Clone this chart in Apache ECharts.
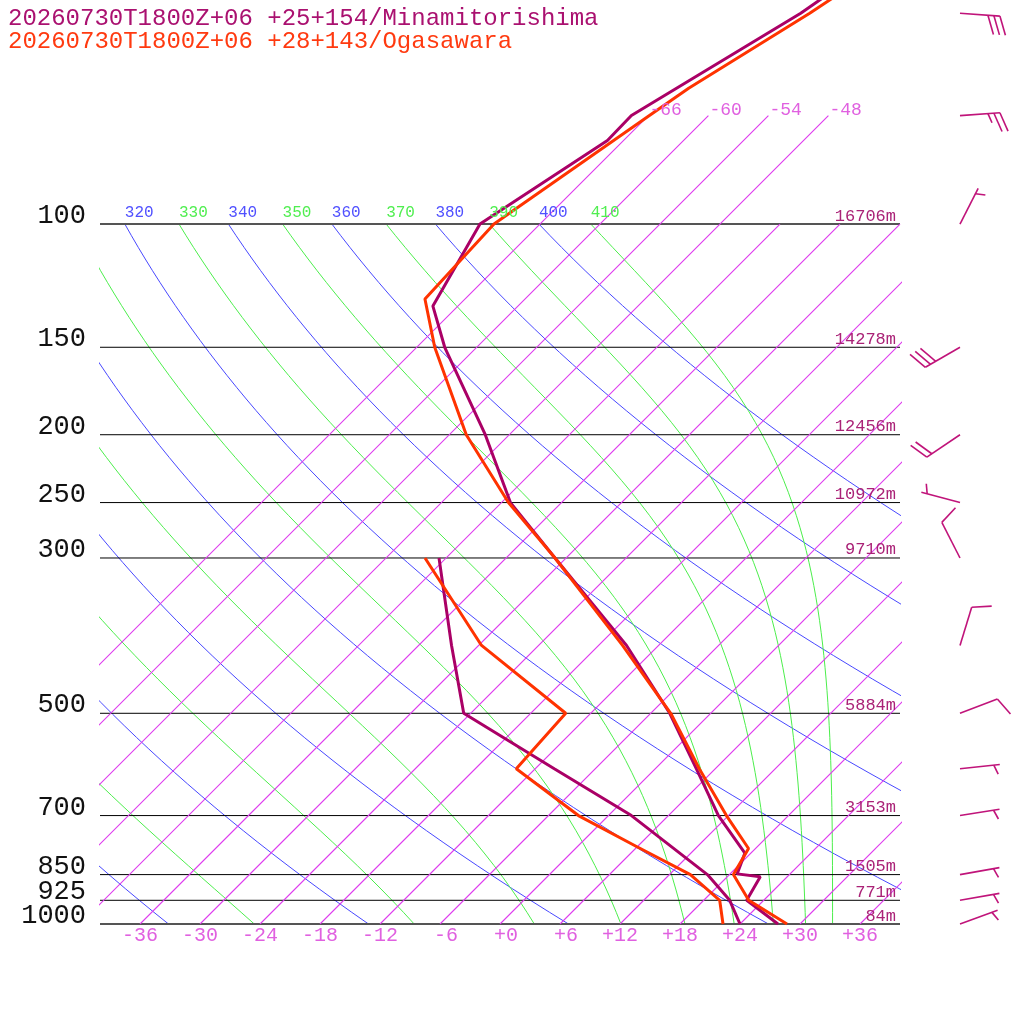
<!DOCTYPE html>
<html>
<head>
<meta charset="utf-8">
<script src="https://cdn.jsdelivr.net/npm/echarts@6/dist/echarts.min.js"></script>
<style>html,body{margin:0;padding:0;background:#ffffff}#chart{width:1024px;height:1024px}</style>
</head>
<body>
<div id="chart"></div>
<script>
// ---------------- data ----------------
const titleLines = ['20260730T1800Z+06 +25+154/Minamitorishima', '20260730T1800Z+06 +28+143/Ogasawara'];
const pressureLevels = [100, 150, 200, 250, 300, 500, 700, 850, 925, 1000];
const pressureLabels = ['100', '150', '200', '250', '300', '500', '700', '850', '925', '1000'];
const heightLabels = ['16706m', '14278m', '12456m', '10972m', '9710m', '5884m', '3153m', '1505m', '771m', '84m'];
const tempTicks = [-36, -30, -24, -18, -12, -6, 0, 6, 12, 18, 24, 30, 36];
const isotherms = [-66, -60, -54, -48, -42, -36, -30, -24, -18, -12, -6, 0, 6, 12, 18, 24, 30, 36];
const upperIsotherms = [-66, -60, -54, -48];
const dryAdiabats = [240, 260, 280, 300, 320, 340, 360, 380, 400];
const moistAdiabats = [250, 270, 290, 310, 330, 350, 370, 390, 410];

// Minamitorishima
const minaTempP = [1000, 925, 856, 848, 792, 700, 600, 500, 400, 300, 250, 200, 150, 131, 100, 76, 70, 50, 30];
const minaTempC = [27.8, 22.3, 21.3, 18.7, 17.4, 11.0, 4.1, -4.1, -15.2, -31.1, -41.1, -50.4, -63.2, -68.5, -72.0, -67.6, -67.7, -61.0, -54.3];
const minaDewP = [1000, 925, 850, 700, 600, 500, 400, 300];
const minaDewC = [24.0, 20.6, 15.8, 2.3, -10.1, -24.7, -32.7, -42.7];
// Ogasawara
const ogaTempP = [1000, 925, 850, 780, 700, 600, 500, 400, 300, 250, 200, 150, 128, 100, 70, 64, 50, 30];
const ogaTempC = [28.7, 22.5, 18.4, 17.3, 11.8, 4.4, -4.0, -15.6, -31.1, -41.3, -52.3, -64.2, -70.0, -70.6, -65.9, -64.7, -60.1, -52.3];
const ogaDewP = [1000, 925, 850, 775, 700, 600, 500, 400, 300];
const ogaDewC = [22.3, 19.6, 14.1, 5.9, -3.0, -13.9, -14.5, -29.7, -44.1];

// Winds (Minamitorishima)
const windP = [50, 70, 100, 150, 200, 250, 300, 400, 500, 600, 700, 850, 925, 1000];
const windDir = [94, 86, 27, 240, 236, 285, 333, 17, 69, 84, 81, 80, 80, 70];
const windSpd = [30, 25, 5, 30, 20, 5, 10, 10, 10, 5, 5, 5, 5, 5];

// ---------------- diagram geometry ----------------
const P_TOP = 47.86;     // top of diagram (hPa)
const K = 30.4;          // skew: degC shift per unit ln(1000/p)
const X_MIN = -40, X_MAX = 40;
const X_BARB = 46;       // column of wind barbs (right of plot)
const MONO = '"Liberation Mono", "DejaVu Sans Mono", monospace';
const ISO_COLOR = 'rgb(222, 60, 238)';

function skewX(T, p) { return T + K * Math.log(1000 / p); }

function thetaESat(TK, p) {
  const Tc = TK - 273.15;
  const e = 6.112 * Math.exp(17.67 * Tc / (Tc + 243.5));
  if (e >= p * 0.6) return 1e9;
  const r = 0.622 * e / (p - e);
  const thDL = TK * Math.pow(1000 / (p - e), 0.2854);
  return thDL * Math.exp((3036 / TK - 1.78) * r * (1 + 0.448 * r));
}
function moistT(thE, p) {
  let lo = 120, hi = 360;
  for (let i = 0; i < 60; i++) {
    const mid = (lo + hi) / 2;
    if (thetaESat(mid, p) > thE) hi = mid; else lo = mid;
  }
  return (lo + hi) / 2 - 273.15;
}
function dryT(th, p) { return th * Math.pow(p / 1000, 0.286) - 273.15; }

const levels = [];
for (let i = 0; i <= 60; i++) levels.push(1000 * Math.exp(-i * Math.log(10) / 60));

const series = [];
function addLine(data, color, width, z) {
  series.push({ type: 'line', data, symbol: 'none', showSymbol: false, silent: true, clip: true, animation: false,
    color: color, itemStyle: { color: color },
    lineStyle: { color: color, width: width, opacity: 1 }, z: z });
}

// isotherms as line series
isotherms.forEach(T => {
  const top = upperIsotherms.includes(T) ? 70 : 100;
  addLine([[skewX(T, 1000), 1000], [skewX(T, top), top]], ISO_COLOR, 1.1, 4);
});
// dry adiabats
dryAdiabats.forEach(th => addLine(levels.map(p => [skewX(dryT(th, p), p), p]), '#4848ff', 1, 2));
// moist adiabats
moistAdiabats.forEach(th => addLine(levels.map(p => [skewX(moistT(th, p), p), p]), '#4cee4c', 1, 2));
// isobars
pressureLevels.forEach(p => {
  const edge = (p === 100 || p === 1000);
  addLine([[X_MIN, p], [X_MAX, p]], edge ? '#555555' : '#000000', edge ? 2 : 1, 3);
});
// soundings
function prof(P, T) { return P.map((p, i) => [skewX(T[i], p), p]); }
addLine(prof(minaDewP, minaDewC), '#aa0066', 3, 5);
addLine(prof(minaTempP, minaTempC), '#aa0066', 3, 5);
addLine(prof(ogaDewP, ogaDewC), '#ff3300', 3, 6);
addLine(prof(ogaTempP, ogaTempC), '#ff3300', 3, 6);

// text items
const texts = [];
pressureLevels.forEach((p, i) => {
  texts.push({ x: X_MIN, p, text: pressureLabels[i], color: '#111111', font: '27px ' + MONO, align: 'right', dx: -14, dy: -8 });
  texts.push({ x: X_MAX, p, text: heightLabels[i], color: '#aa2277', font: '17px ' + MONO, align: 'right', dx: -4, dy: -8 });
});
tempTicks.forEach(T => {
  const lab = T > 0 ? '+' + T : (T === 0 ? '+0' : String(T));
  texts.push({ x: skewX(T, 1000), p: 1000, text: lab, color: '#e060e0', font: '20px ' + MONO, align: 'right', dx: 18, dy: 12 });
});
upperIsotherms.forEach(T => {
  texts.push({ x: skewX(T, 70), p: 70, text: String(T), color: '#e060e0', font: '18px ' + MONO, align: 'left', dx: 1, dy: -5 });
});
dryAdiabats.forEach(th => {
  const x = skewX(dryT(th, 100), 100);
  if (x >= X_MIN) texts.push({ x, p: 100, text: String(th), color: '#5050ff', font: '16px ' + MONO, align: 'left', dx: 0, dy: -11 });
});
moistAdiabats.forEach(th => {
  const x = skewX(moistT(th, 100), 100);
  if (x >= X_MIN) texts.push({ x, p: 100, text: String(th), color: '#50ee50', font: '16px ' + MONO, align: 'left', dx: 0, dy: -11 });
});

series.push({
  type: 'custom', silent: true, clip: false, animation: false, z: 10,
  data: texts.map(t => [t.x, t.p]),
  renderItem: function (params, api) {
    const t = texts[params.dataIndex];
    const c = api.coord([t.x, t.p]);
    return { type: 'text', x: c[0] + t.dx, y: c[1] + t.dy,
      style: { text: t.text, fill: t.color, font: t.font, align: t.align, verticalAlign: 'middle',
               textAlign: t.align, textVerticalAlign: 'middle' } };
  }
});

// wind barbs
series.push({
  type: 'custom', silent: true, clip: false, animation: false, z: 10,
  data: windP.map((p, i) => [X_BARB, p, windDir[i], windSpd[i]]),
  renderItem: function (params, api) {
    const c = api.coord([api.value(0), api.value(1)]);
    const d = api.value(2) * Math.PI / 180, spd = api.value(3);
    const ux = Math.sin(d), uy = -Math.cos(d);
    const L = 40, a = 70 * Math.PI / 180;
    const bx = ux * Math.cos(a) - uy * Math.sin(a), by = ux * Math.sin(a) + uy * Math.cos(a);
    const st = { stroke: '#c0147a', lineWidth: 1.6 };
    const ch = [{ type: 'line', shape: { x1: c[0], y1: c[1], x2: c[0] + ux * L, y2: c[1] + uy * L }, style: st }];
    const full = Math.floor(spd / 10), half = (spd % 10) >= 5 ? 1 : 0;
    let s = (full === 0 && half) ? L - 6 : L;
    for (let i = 0; i < full; i++) {
      const x0 = c[0] + ux * s, y0 = c[1] + uy * s;
      ch.push({ type: 'line', shape: { x1: x0, y1: y0, x2: x0 + bx * 20, y2: y0 + by * 20 }, style: st });
      s -= 6;
    }
    if (half) {
      const x0 = c[0] + ux * s, y0 = c[1] + uy * s;
      ch.push({ type: 'line', shape: { x1: x0, y1: y0, x2: x0 + bx * 10, y2: y0 + by * 10 }, style: st });
    }
    return { type: 'group', children: ch };
  }
});

const chart = echarts.init(document.getElementById('chart'), null, { renderer: 'canvas' });
chart.setOption({
  animation: false,
  backgroundColor: '#ffffff',
  title: [
    { text: titleLines[0], left: 8, top: 7, padding: 0,
      textStyle: { fontFamily: MONO, fontSize: 24, fontWeight: 'normal', color: '#aa1170' } },
    { text: titleLines[1], left: 8, top: 30, padding: 0,
      textStyle: { fontFamily: MONO, fontSize: 24, fontWeight: 'normal', color: '#ff3a10' } }
  ],
  grid: { left: 100, right: 124, top: 0, bottom: 100, containLabel: false },
  xAxis: { type: 'value', min: X_MIN, max: X_MAX, show: false, splitLine: { show: false } },
  yAxis: { type: 'log', min: P_TOP, max: 1000, inverse: true, show: false, splitLine: { show: false } },
  series
});
</script>
</body>
</html>
